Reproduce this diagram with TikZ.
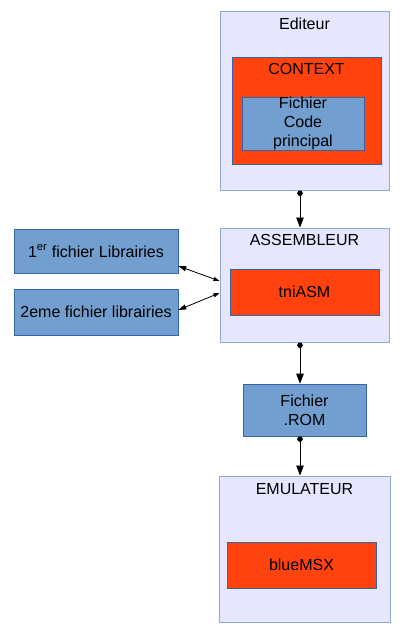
\documentclass[tikz,border=0pt]{standalone}
\usepackage{fontspec}
\setmainfont{Liberation Sans}
\usetikzlibrary{arrows.meta}
\definecolor{lavande}{HTML}{E6E6FF}
\definecolor{bordclair}{HTML}{8EA9DB}
\definecolor{rouge}{HTML}{FF420E}
\definecolor{bleu}{HTML}{729FCF}
\definecolor{bleufonce}{HTML}{3465A4}
\tikzset{
  cadre/.style={draw=bordclair,fill=lavande,line width=1pt,inner sep=0pt},
  rouge/.style={draw=bleufonce,fill=rouge,line width=0.6pt,inner sep=0pt},
  bleu/.style={draw=bleufonce,fill=bleu,line width=0.6pt,inner sep=0pt,align=center},
  titre/.style={inner sep=0pt},
  fleche/.style={line width=0.8pt,{Circle[length=5.5pt]}-{Triangle[length=10pt,width=7.5pt]}},
  double/.style={line width=0.8pt,{Triangle[length=8pt,width=5pt]}-{Triangle[length=6pt,width=4pt]}}
}
\begin{document}
\begin{tikzpicture}
                        [x=1pt,y=-1pt,font=\fontsize{16}{19}\selectfont]
                        \useasboundingbox (0,0) rectangle (413,638);
                        \node[cadre,minimum width=169pt,minimum height=179pt] (edit) at (304.5,100.5) {};
                        \node[titre] (editT) at (304.5,24) {Editeur};
                        \node[rouge,minimum width=149pt,minimum height=107pt] (ctx) at (306.5,110.5) {};
                        \node[titre] (ctxT) at (306.5,69) {CONTEXT};
                        \node[bleu,minimum width=122pt,minimum height=51pt] (fcp) at (303,123.5) {Fichier\\Code\\principal};
                        \node[cadre,minimum width=169pt,minimum height=114pt] (asm) at (304.5,285) {};
                        \node[titre] (asmT) at (304.5,240) {ASSEMBLEUR};
                        \node[rouge,minimum width=149pt,minimum height=46pt] (tni) at (304.5,292) {tniASM};
                        \node[bleu,minimum width=164pt,minimum height=44pt] (lib1) at (96,251) {1\textsuperscript{er} fichier Librairies};
                        \node[bleu,minimum width=164pt,minimum height=46pt] (lib2) at (96,312) {2eme fichier librairies};
                        \node[bleu,minimum width=123pt,minimum height=52pt] (rom) at (304.5,410) {Fichier\\.ROM};
                        \node[cadre,minimum width=171pt,minimum height=146pt] (emu) at (304.5,549) {};
                        \node[titre] (emuT) at (304.5,489) {EMULATEUR};
                        \node[rouge,minimum width=149pt,minimum height=46pt] (blue) at (301.5,565) {blueMSX};
                        \foreach \from/\to in {edit/asm,asm/rom,rom/emu}
                        \draw[fleche] ([xshift=-4.5pt]\from.south) -- ([xshift=-4.5pt]\to.north);
                        \draw[double] ([yshift=-15pt]lib1.east) -- ([yshift=4pt]asm.west);
                        \draw[double] ([yshift=2pt]lib2.east) -- ([yshift=-8pt]asm.west);
                    \end{tikzpicture}
\end{document}
